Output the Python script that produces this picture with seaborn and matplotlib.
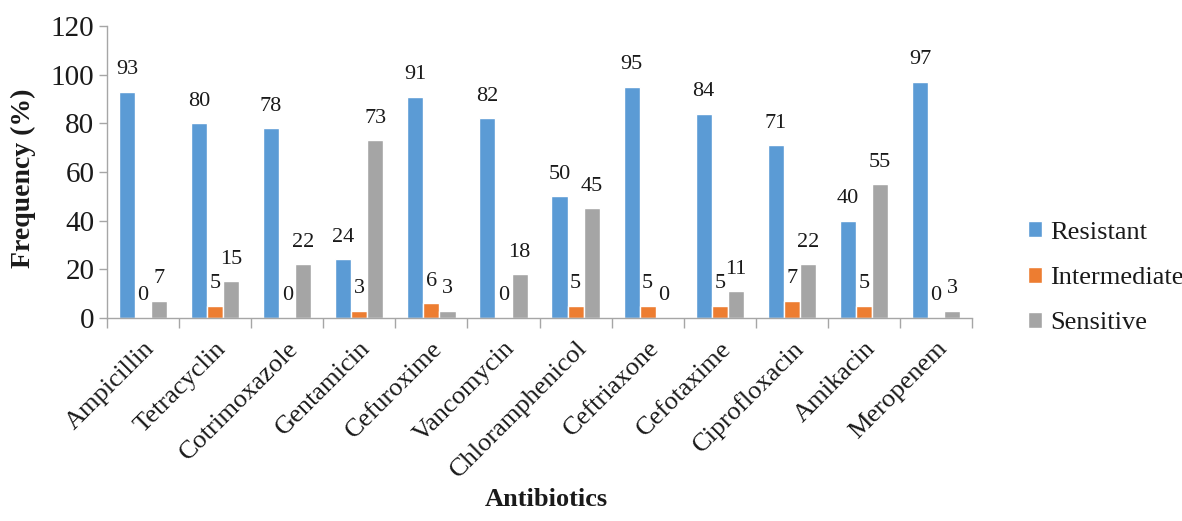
import numpy as np
import pandas as pd
import matplotlib
matplotlib.use("Agg")
import matplotlib.pyplot as plt
import seaborn as sns

antibiotics = ["Ampicillin", "Tetracyclin", "Cotrimoxazole", "Gentamicin", "Cefuroxime",
               "Vancomycin", "Chloramphenicol", "Ceftriaxone", "Cefotaxime", "Ciprofloxacin",
               "Amikacin", "Meropenem"]
resistant = [93, 80, 78, 24, 91, 82, 50, 95, 84, 71, 40, 97]
intermediate = [0, 5, 0, 3, 6, 0, 5, 5, 5, 7, 5, 0]
sensitive = [7, 15, 22, 73, 3, 18, 45, 0, 11, 22, 55, 3]
categories = ["Resistant", "Intermediate", "Sensitive"]
colors = ["#5b9bd5", "#ed7d31", "#a5a5a5"]

df = pd.DataFrame({
    "Antibiotic": antibiotics * 3,
    "Category": np.repeat(categories, len(antibiotics)),
    "Frequency": resistant + intermediate + sensitive,
})

sns.set_style("white")
plt.rcParams["font.family"] = ["Liberation Serif", "DejaVu Serif"]

fig = plt.figure(figsize=(11.82, 5.21), dpi=100)
ax = fig.add_axes([0.0905, 0.39, 0.732, 0.56])

sns.barplot(data=df, x="Antibiotic", y="Frequency", hue="Category",
            palette=colors, width=0.67, gap=0, saturation=1, ax=ax,
            order=antibiotics, hue_order=categories, errorbar=None)

for cont in ax.containers:
    ax.bar_label(cont, fmt="%g", padding=9, fontsize=16, color="#1a1a1a")

ax.set_ylim(0, 120)
ax.set_yticks(np.arange(0, 121, 20))
ax.set_xlim(-0.5, len(antibiotics) - 0.5)
ax.tick_params(axis="y", labelsize=21, length=6, color="#a6a6a6", width=1,
               direction="out", left=True, pad=3, labelcolor="#1a1a1a")
ax.set_xticks(range(len(antibiotics)))
ax.set_xticklabels(antibiotics, rotation=45, ha="right", rotation_mode="anchor",
                   fontsize=19, color="#1a1a1a")
ax.tick_params(axis="x", which="major", length=0, pad=14)
ax.set_xticks(np.arange(-0.5, len(antibiotics), 1), minor=True)
ax.tick_params(axis="x", which="minor", length=7, color="#a6a6a6", width=1,
               direction="out", bottom=True)

for side in ["top", "right"]:
    ax.spines[side].set_visible(False)
for side in ["left", "bottom"]:
    ax.spines[side].set_color("#a6a6a6")
    ax.spines[side].set_linewidth(1)

ax.set_ylabel("Frequency (%)", fontsize=20, fontweight="bold", color="#1a1a1a")
ax.yaxis.set_label_coords(-0.082, 0.48)
ax.set_xlabel("")
fig.text(0.462, 0.02, "Antibiotics", fontsize=19, fontweight="bold", ha="center",
         va="bottom", color="#1a1a1a")

leg = ax.legend(loc="center left", bbox_to_anchor=(1.064, 0.137), frameon=False, fontsize=19,
                handlelength=0.55, handleheight=0.55, handletextpad=0.3, labelspacing=0.87,
                borderpad=0, borderaxespad=0)
for t in leg.get_texts():
    t.set_color("#1a1a1a")

fig.savefig("out.png", dpi=100)
